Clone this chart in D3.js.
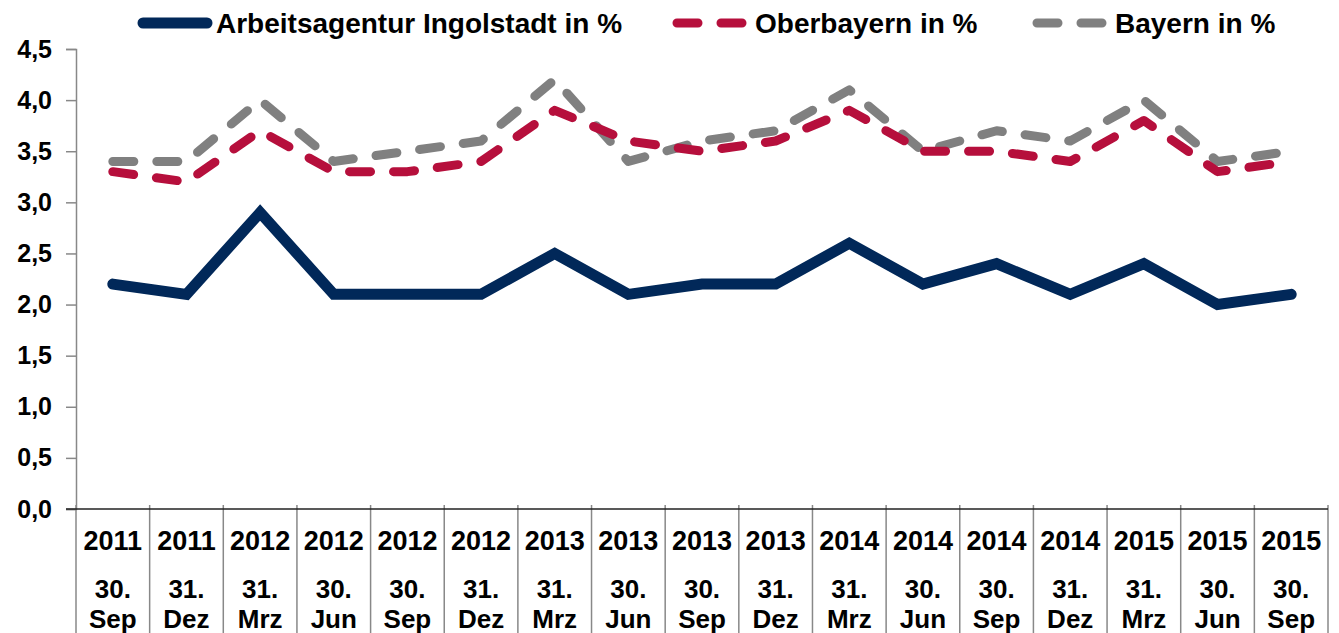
<!DOCTYPE html>
<html>
<head>
<meta charset="utf-8">
<script src="https://cdn.jsdelivr.net/npm/d3@7"></script>
<style>
  body { margin: 0; background: #fff; }
  svg text { font-family: "Liberation Sans", Arial, sans-serif; font-weight: bold; fill: #000; }
</style>
</head>
<body>
<div id="chart"></div>
<script>
var years = ["2011","2011","2012","2012","2012","2012","2013","2013","2013","2013","2014","2014","2014","2014","2015","2015","2015"];
var days = ["30.","31.","31.","30.","30.","31.","31.","30.","30.","31.","31.","30.","30.","31.","31.","30.","30."];
var months = ["Sep","Dez","Mrz","Jun","Sep","Dez","Mrz","Jun","Sep","Dez","Mrz","Jun","Sep","Dez","Mrz","Jun","Sep"];

var ingolstadt = [2.2, 2.1, 2.9, 2.1, 2.1, 2.1, 2.5, 2.1, 2.2, 2.2, 2.6, 2.2, 2.4, 2.1, 2.4, 2.0, 2.1];
var oberbayern = [3.3, 3.2, 3.7, 3.3, 3.3, 3.4, 3.9, 3.6, 3.5, 3.6, 3.9, 3.5, 3.5, 3.4, 3.8, 3.3, 3.4];
var bayern     = [3.4, 3.4, 4.0, 3.4, 3.5, 3.6, 4.2, 3.4, 3.6, 3.7, 4.1, 3.5, 3.7, 3.6, 4.0, 3.4, 3.5];

var seriesNames = ["Arbeitsagentur Ingolstadt in %", "Oberbayern in %", "Bayern in %"];
var yTicks = [0, 0.5, 1, 1.5, 2, 2.5, 3, 3.5, 4, 4.5];

var W = 1339, H = 633,
    margin = {top: 49, right: 11, bottom: 124, left: 76};

var svg = d3.select('#chart').append('svg')
    .attr('width', W)
    .attr('height', H);

var idx = d3.range(years.length);

var x = d3.scaleBand()
    .domain(idx)
    .range([margin.left, W - margin.right]);

var y = d3.scaleLinear()
    .domain([0, 4.5])
    .range([H - margin.bottom, margin.top]);

// y axis
var yAxis = svg.append('g')
    .attr('transform', 'translate(' + margin.left + ',0)')
    .call(d3.axisLeft(y).tickValues(yTicks).tickSize(10).tickPadding(14)
        .tickFormat(function(d){ return d3.format('.1f')(d).replace('.', ','); }));
yAxis.select('.domain').attr('stroke', '#888').attr('stroke-width', 1.5);
yAxis.selectAll('.tick line').attr('stroke', '#888').attr('stroke-width', 1.5);
yAxis.selectAll('text')
    .attr('font-size', '25px')
    .style('font-family', '"Liberation Sans", Arial, sans-serif')
    .style('font-weight', 'bold')
    .attr('fill', '#000');

// category dividers
var y0 = y(0);
svg.append('g')
    .selectAll('line')
    .data(idx.concat([years.length]))
    .enter()
    .append('line')
    .attr('x1', function(d){ return d < years.length ? x(d) : x(years.length - 1) + x.bandwidth(); })
    .attr('x2', function(d){ return d < years.length ? x(d) : x(years.length - 1) + x.bandwidth(); })
    .attr('y1', y0 - 4)
    .attr('y2', H)
    .attr('stroke', '#888')
    .attr('stroke-width', 1.5);

// x axis baseline
svg.append('line')
    .attr('x1', margin.left - 10)
    .attr('x2', W - margin.right)
    .attr('y1', y0)
    .attr('y2', y0)
    .attr('stroke', '#222')
    .attr('stroke-width', 1.5);

// category labels
var labels = svg.append('g')
    .selectAll('g')
    .data(idx)
    .enter()
    .append('g')
    .attr('transform', function(d){ return 'translate(' + (x(d) + x.bandwidth()/2) + ',0)'; });

labels.append('text')
    .attr('y', 550)
    .attr('text-anchor', 'middle')
    .attr('font-size', '27px')
    .text(function(d){ return years[d]; });
labels.append('text')
    .attr('y', 598)
    .attr('text-anchor', 'middle')
    .attr('font-size', '26px')
    .text(function(d){ return days[d]; });
labels.append('text')
    .attr('y', 628)
    .attr('text-anchor', 'middle')
    .attr('font-size', '26px')
    .text(function(d){ return months[d]; });

// lines
var series = [
  {name: seriesNames[0], values: ingolstadt, color: '#012859', width: 11, dash: null},
  {name: seriesNames[1], values: oberbayern, color: '#B60F3C', width: 9, dash: '21,23'},
  {name: seriesNames[2], values: bayern, color: '#808080', width: 9, dash: '21,23'}
];

var line = d3.line()
    .x(function(d, i){ return x(i) + x.bandwidth()/2; })
    .y(function(d){ return y(d); });

// bayern first, then oberbayern, ingolstadt on top
series.slice().reverse().forEach(function(s){
  svg.append('path')
      .datum(s.values)
      .attr('d', line)
      .attr('fill', 'none')
      .attr('stroke', s.color)
      .attr('stroke-width', s.width)
      .attr('stroke-linecap', 'round')
      .attr('stroke-linejoin', s.dash ? 'round' : 'miter')
      .attr('stroke-dasharray', s.dash);
});

// legend
var legendPos = [138, 677, 1037];
var legend = svg.append('g')
    .selectAll('g')
    .data(series)
    .enter()
    .append('g')
    .attr('transform', function(d, i){ return 'translate(' + legendPos[i] + ',23)'; });

legend.append('line')
    .attr('x1', function(d){ return d.dash ? 0 : 5; })
    .attr('x2', 69)
    .attr('stroke', function(d){ return d.color; })
    .attr('stroke-width', function(d){ return d.width; })
    .attr('stroke-linecap', 'round')
    .attr('stroke-dasharray', function(d){ return d.dash; });

legend.append('text')
    .attr('x', 78)
    .attr('y', 10)
    .attr('font-size', '28px')
    .text(function(d){ return d.name; });
</script>
</body>
</html>
